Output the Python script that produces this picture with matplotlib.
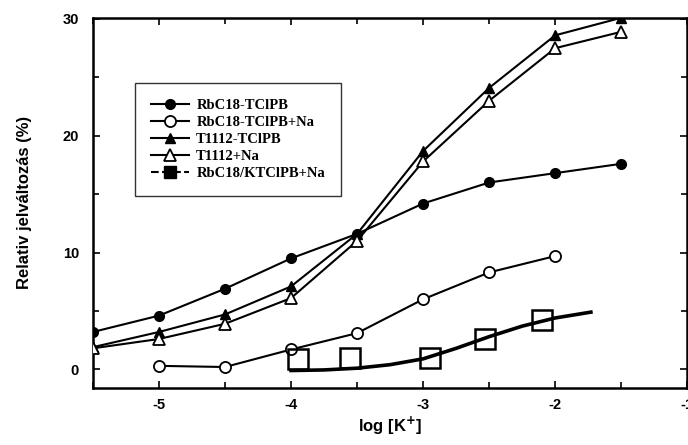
import matplotlib
matplotlib.use("Agg")
import matplotlib.pyplot as plt
from matplotlib.ticker import MultipleLocator

plt.rcParams["axes.unicode_minus"] = False

# -------------------------------
# Data
# -------------------------------
log_k = [-5.5, -5.0, -4.5, -4.0, -3.5, -3.0, -2.5, -2.0, -1.5]
rb_tclpb = [3.2, 4.6, 6.9, 9.5, 11.6, 14.2, 16.0, 16.8, 17.6]
t1112_tclpb = [1.9, 3.2, 4.7, 7.1, 11.6, 18.7, 24.1, 28.6, 30.1]
t1112_na = [1.8, 2.6, 3.9, 6.1, 11.0, 17.8, 23.0, 27.5, 28.9]

log_k_rbna = [-5.0, -4.5, -4.0, -3.5, -3.0, -2.5, -2.0]
rb_tclpb_na = [0.3, 0.2, 1.7, 3.1, 6.0, 8.3, 9.7]

log_k_sq = [-3.95, -3.55, -2.95, -2.53, -2.1]
rb_ktclpb_na = [0.9, 1.0, 1.0, 2.6, 4.2]

# smooth fit drawn through the square points
fit_x = [-4.0, -3.75, -3.5, -3.25, -3.0, -2.75, -2.5, -2.25, -2.0, -1.73]
fit_y = [-0.1, -0.05, 0.1, 0.4, 0.9, 1.8, 2.8, 3.7, 4.4, 4.9]

labels = ["RbC18-TClPB", "RbC18-TClPB+Na", "T1112-TClPB", "T1112+Na", "RbC18/KTClPB+Na"]

# -------------------------------
# Plot
# -------------------------------
fig = plt.figure(figsize=(6.88, 4.45), dpi=100)
ax = fig.add_axes([0.135, 0.128, 0.864, 0.832])

lw = 1.5
ax.plot(log_k, rb_tclpb, "-o", color="black", lw=lw, ms=7, label=labels[0], zorder=3)
ax.plot(log_k_rbna, rb_tclpb_na, "-o", color="black", mfc="white", mew=1.3, lw=lw, ms=8,
        label=labels[1], zorder=3)
ax.plot(log_k, t1112_tclpb, "-^", color="black", lw=lw, ms=7, label=labels[2], zorder=3)
ax.plot(log_k, t1112_na, "-^", color="black", mfc="white", mew=1.3, lw=lw, ms=8,
        label=labels[3], zorder=3)
ax.plot(log_k_sq, rb_ktclpb_na, "s", color="black", mfc="none", mew=1.8, ms=14, zorder=3)
ax.plot(fit_x, fit_y, "-", color="black", lw=2.6, zorder=2)
# legend-only handle for the square series
ax.plot([], [], "--s", color="black", lw=lw, ms=8, label=labels[4])

ax.set_xlim(-5.5, -1.0)
ax.set_ylim(-1.6, 30.1)
ax.xaxis.set_major_locator(MultipleLocator(1))
ax.xaxis.set_minor_locator(MultipleLocator(0.5))
ax.yaxis.set_major_locator(MultipleLocator(10))
ax.yaxis.set_minor_locator(MultipleLocator(5))
ax.tick_params(which="both", direction="in", top=True, right=True, width=1.2)
ax.tick_params(which="major", length=5, labelsize=10.5)
ax.tick_params(which="minor", length=4)
for lab in ax.get_xticklabels() + ax.get_yticklabels():
    lab.set_fontweight("bold")
    lab.set_family("Liberation Sans")
ax.tick_params(axis="x", pad=7)
ax.tick_params(axis="y", pad=10)
for sp in ax.spines.values():
    sp.set_linewidth(1.8)

ax.set_xlabel("log [K$^{\\mathbf{+}}$]", fontsize=12, fontweight="bold", family="Liberation Sans", labelpad=2)
ax.set_ylabel("Relativ jelváltozás (%)", fontsize=12, fontweight="bold", family="Liberation Sans", labelpad=22)

leg = ax.legend(loc="upper left", bbox_to_anchor=(135 / 688, 1 - 83 / 445),
                bbox_transform=fig.transFigure, borderaxespad=0, frameon=True, fancybox=False,
                edgecolor="black", handlelength=2.6, handletextpad=0.5, labelspacing=0.25,
                borderpad=1.1, prop={"family": "Liberation Serif", "weight": "bold", "size": 10.5})
leg.get_frame().set_linewidth(1.0)

fig.savefig("out.png", dpi=100)
